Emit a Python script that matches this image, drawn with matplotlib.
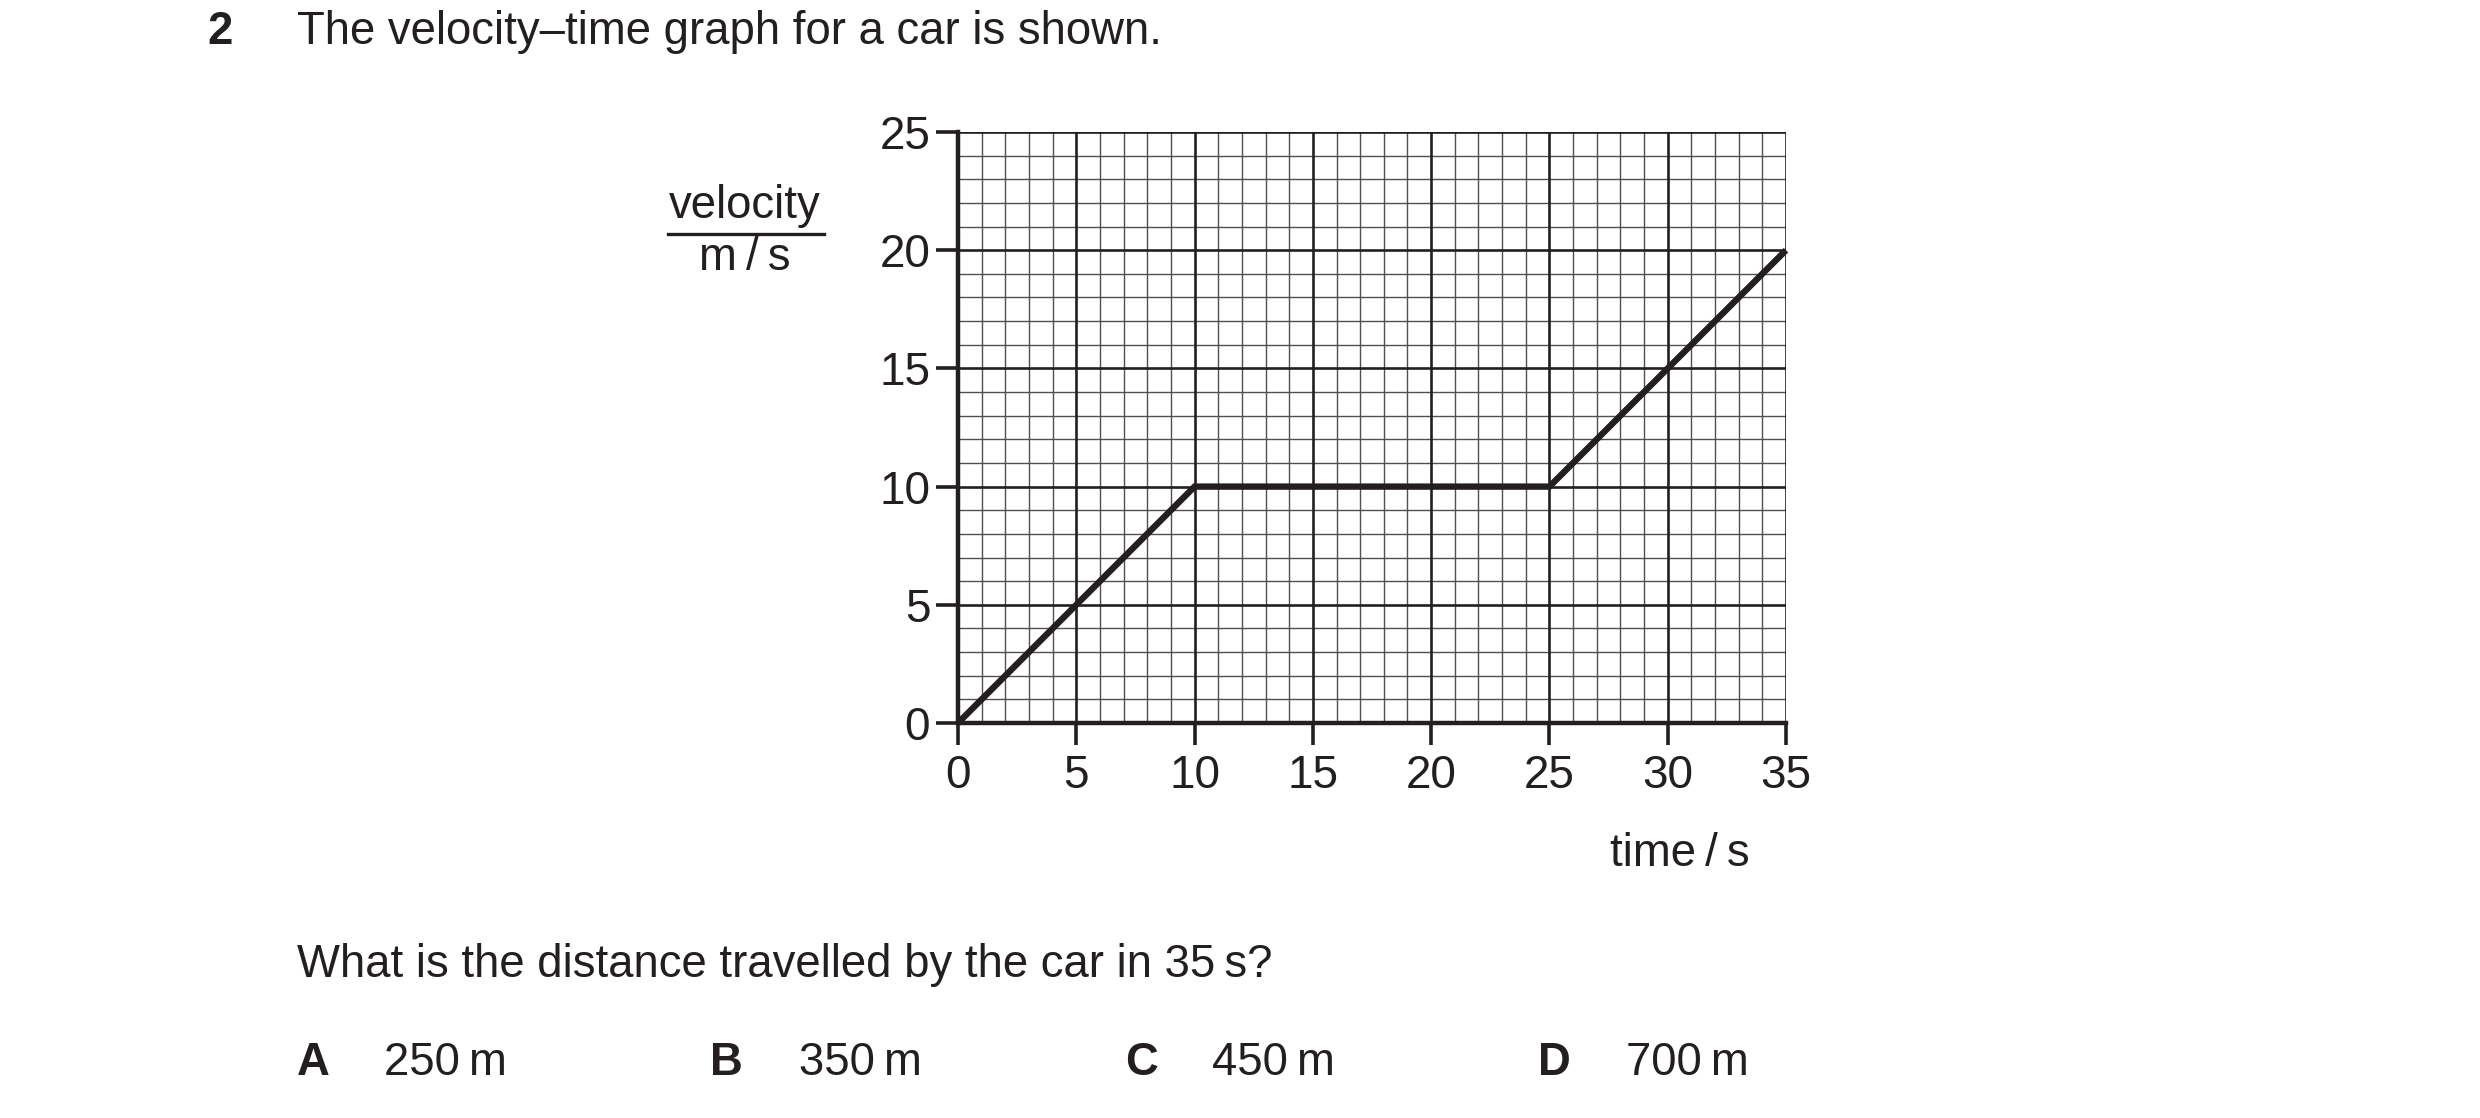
import matplotlib
matplotlib.use("Agg")
import matplotlib.pyplot as plt
import numpy as np

# Data
time_s = [0, 10, 25, 35]
velocity_ms = [0, 10, 10, 20]
x_ticks = [0, 5, 10, 15, 20, 25, 30, 35]
y_ticks = [0, 5, 10, 15, 20, 25]
question_number = "2"
title_text = "The velocity\u2013time graph for a car is shown."
question_text = "What is the distance travelled by the car in 35\u2009s?"
option_letters = ["A", "B", "C", "D"]
option_values = ["250\u2009m", "350\u2009m", "450\u2009m", "700\u2009m"]

FONT = ["Liberation Sans", "DejaVu Sans"]
plt.rcParams['font.family'] = FONT
INK = "#231f20"

W, H = 2480, 1118
DPI = 200
fig = plt.figure(figsize=(W / DPI, H / DPI), dpi=DPI)

def fx(px):
    return px / W

def fy(py):
    return 1 - py / H

left, right, top, bottom = 958, 1786, 132, 723
ax = fig.add_axes([fx(left), fy(bottom), fx(right) - fx(left), fy(top) - fy(bottom)])

ax.set_xlim(0, 35)
ax.set_ylim(0, 25)

# grid
minor_x = np.arange(0, 36, 1)
minor_y = np.arange(0, 26, 1)
for v in minor_x:
    if v % 5:
        ax.axvline(v, color="#505050", lw=0.5, zorder=1)
for v in minor_y:
    if v % 5:
        ax.axhline(v, color="#505050", lw=0.5, zorder=1)
for v in x_ticks[1:]:
    ax.axvline(v, color=INK, lw=0.95, zorder=2)
for v in y_ticks[1:]:
    ax.axhline(v, color=INK, lw=0.95, zorder=2)

ax.plot(time_s, velocity_ms, color=INK, lw=2.3, solid_capstyle="butt",
        solid_joinstyle="miter", zorder=4, clip_on=False)

for s in ["top", "right"]:
    ax.spines[s].set_visible(False)
for s in ["left", "bottom"]:
    ax.spines[s].set_linewidth(1.6)
    ax.spines[s].set_color(INK)
    ax.spines[s].set_zorder(5)

ax.set_xticks(x_ticks)
ax.set_yticks(y_ticks)
ax.set_xticklabels([str(v) for v in x_ticks])
ax.set_yticklabels([str(v) for v in y_ticks])
ax.tick_params(axis="both", direction="out", length=8, width=1.3, color=INK,
               labelsize=16.5, labelcolor=INK, pad=2)
ax.tick_params(axis="x", pad=3)

# texts
fs = 16.4
fig.text(fx(207), fy(32), question_number, fontsize=fs, fontweight="bold",
         color=INK, ha="left", va="center")
fig.text(fx(297), fy(32), title_text, fontsize=fs, color=INK, ha="left", va="center")

fig.text(fx(745), fy(206), "velocity", fontsize=fs, color=INK, ha="center", va="center")
fig.text(fx(745), fy(258), "m\u2009/\u2009s", fontsize=fs, color=INK, ha="center", va="center")
fig.add_artist(plt.Line2D([fx(668), fx(824)], [fy(234), fy(234)], color=INK, lw=1.2))

fig.text(fx(1680), fy(854), "time\u2009/\u2009s", fontsize=fs, color=INK, ha="center", va="center")

fig.text(fx(297), fy(965), question_text, fontsize=fs, color=INK, ha="left", va="center")

letter_x = [297, 710, 1125, 1538]
value_x = [384, 799, 1212, 1626]
for lx, vx, L, V in zip(letter_x, value_x, option_letters, option_values):
    fig.text(fx(lx), fy(1063), L, fontsize=fs, fontweight="bold", color=INK,
             ha="left", va="center")
    fig.text(fx(vx), fy(1063), V, fontsize=fs, color=INK, ha="left", va="center")

fig.savefig("out.png", dpi=DPI)
